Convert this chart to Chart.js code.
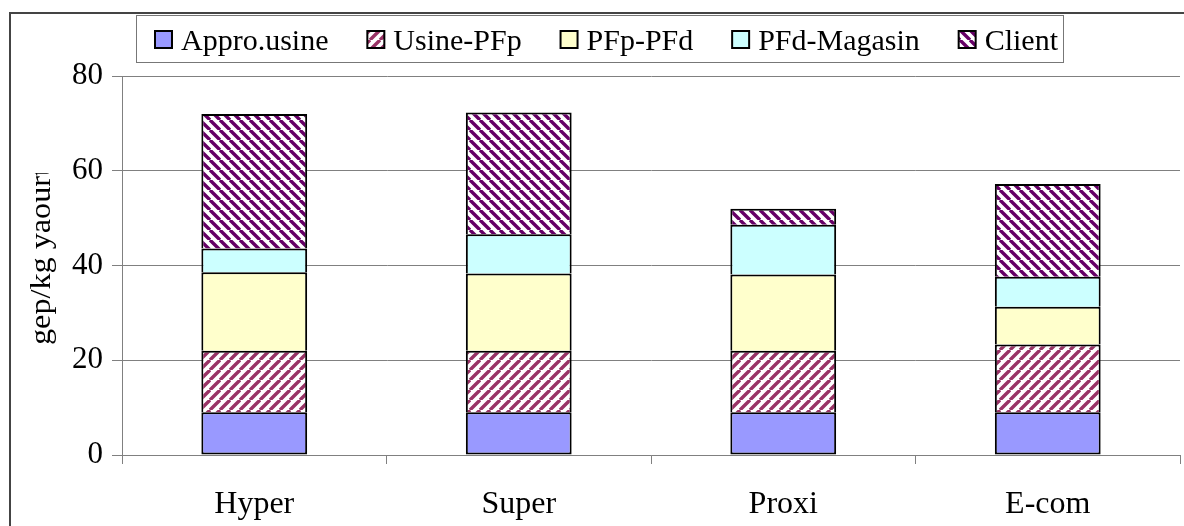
<!DOCTYPE html>
<html>
<head>
<meta charset="utf-8">
<title>gep/kg yaourt</title>
<style>
  html, body { margin: 0; padding: 0; background: #fff; overflow: hidden; }
  #wrap { position: relative; width: 1184px; height: 526px; overflow: hidden; }
  #frame { position: absolute; left: 9px; top: 12px; width: 1300px; height: 700px;
           border: 2px solid #444; box-sizing: border-box; pointer-events: none; }
  canvas { position: absolute; left: 0; top: 0; }
</style>
<script src="https://cdn.jsdelivr.net/npm/chart.js@4.4.1/dist/chart.umd.min.js"></script>
</head>
<body>
<div id="wrap">
  <canvas id="chart" width="1184" height="526"></canvas>
  <div id="frame"></div>
</div>
<script>
// Stages of the yoghurt chain, energy per kg (gep/kg yaourt) by retail channel
const categories = ['Hyper', 'Super', 'Proxi', 'E-com'];
const seriesNames = ['Appro.usine', 'Usine-PFp', 'PFp-PFd', 'PFd-Magasin', 'Client'];
const approUsine = [9, 9, 9, 9];
const usinePFp   = [13, 13, 13, 14.3];
const pfpPFd     = [16.6, 16.3, 16.1, 8];
const pfdMagasin = [5, 8.3, 10.5, 6.3];
const client     = [28.4, 25.7, 3.4, 19.6];
const yTicks = [0, 20, 40, 60, 80];
const yTitle = 'gep/kg yaourt';

const FONT = '"Liberation Serif", "Times New Roman", serif';

// diagonal hatch fill: '/' rising stripes or '\' falling stripes on white
function stripes(color, dir) {
  const s = 10;
  const c = document.createElement('canvas');
  c.width = s; c.height = s;
  const g = c.getContext('2d');
  g.fillStyle = '#fff';
  g.fillRect(0, 0, s, s);
  g.strokeStyle = color;
  g.lineWidth = 3.4;
  g.beginPath();
  for (let k = -1; k <= 1; k++) {
    if (dir === '/') { g.moveTo(k * s, s); g.lineTo(k * s + s, 0); }
    else { g.moveTo(k * s, 0); g.lineTo(k * s + s, s); }
  }
  g.stroke();
  return g.createPattern(c, 'repeat');
}

const fills = [
  '#9999FF',
  stripes('#993366', '/'),
  '#FFFFCC',
  '#CCFFFF',
  stripes('#660066', '\\')
];
const values = [approUsine, usinePFp, pfpPFd, pfdMagasin, client];

const datasets = seriesNames.map((name, i) => ({
  label: name,
  data: values[i],
  backgroundColor: fills[i],
  borderColor: '#000',
  borderWidth: 2,
  borderSkipped: i === 0 ? false : 'start',
  barPercentage: 0.4,
  categoryPercentage: 1.0
}));

// boxed legend row and rotated axis title
const decorations = {
  id: 'decorations',
  afterDraw(chart) {
    const ctx = chart.ctx;
    ctx.save();
    // legend frame
    const bx = 136, by = 15, bw = 927, bh = 47;
    ctx.fillStyle = '#fff';
    ctx.fillRect(bx, by, bw, bh);
    ctx.strokeStyle = '#777';
    ctx.lineWidth = 1;
    ctx.strokeRect(bx + 0.5, by + 0.5, bw, bh);

    ctx.font = '30px ' + FONT;
    const sq = 17, gapText = 9;
    const items = chart.data.datasets.map(ds => ({
      label: ds.label, fill: ds.backgroundColor,
      w: ctx.measureText(ds.label).width
    }));
    const startX = 155, endX = 1058;
    const used = items.reduce((a, it) => a + sq + gapText + it.w, 0);
    const gap = (endX - startX - used) / (items.length - 1);
    let x = startX;
    items.forEach(it => {
      ctx.fillStyle = it.fill;
      ctx.fillRect(x, 31, sq, sq);
      ctx.strokeStyle = '#000';
      ctx.lineWidth = 2;
      ctx.strokeRect(x, 31, sq, sq);
      ctx.fillStyle = '#000';
      ctx.textBaseline = 'alphabetic';
      ctx.textAlign = 'left';
      ctx.fillText(it.label, x + sq + gapText, 50);
      x += sq + gapText + it.w + gap;
    });

    // y-axis title, cut off at its upper end
    ctx.beginPath();
    ctx.rect(0, 173, 120, 300);
    ctx.clip();
    ctx.translate(42, 345);
    ctx.rotate(-Math.PI / 2);
    ctx.scale(1.11, 1);
    ctx.font = '29px ' + FONT;
    ctx.fillStyle = '#000';
    ctx.textAlign = 'left';
    ctx.textBaseline = 'middle';
    ctx.fillText(yTitle, 0, 0);
    ctx.restore();
  }
};

new Chart(document.getElementById('chart'), {
  type: 'bar',
  data: { labels: categories, datasets },
  options: {
    responsive: false,
    animation: false,
    devicePixelRatio: 1,
    layout: { padding: { top: 76, left: 0, right: 4, bottom: 0 } },
    plugins: { legend: { display: false }, tooltip: { enabled: false } },
    scales: {
      x: {
        stacked: true,
        grid: { display: true, drawOnChartArea: false, offset: true, tickLength: 9, color: '#808080' },
        border: { color: '#808080', width: 1 },
        ticks: { font: { family: FONT, size: 32 }, color: '#000', padding: 21 },
        afterFit(s) { s.height = 71; }
      },
      y: {
        stacked: true,
        min: 0, max: 80,
        afterBuildTicks(s) { s.ticks = yTicks.map(v => ({ value: v })); },
        grid: { color: '#808080', tickLength: 10 },
        border: { color: '#808080', width: 1 },
        ticks: { font: { family: FONT, size: 31 }, color: '#000', padding: 9 },
        afterFit(s) { s.width = 122; }
      }
    }
  },
  plugins: [decorations]
});
</script>
</body>
</html>
